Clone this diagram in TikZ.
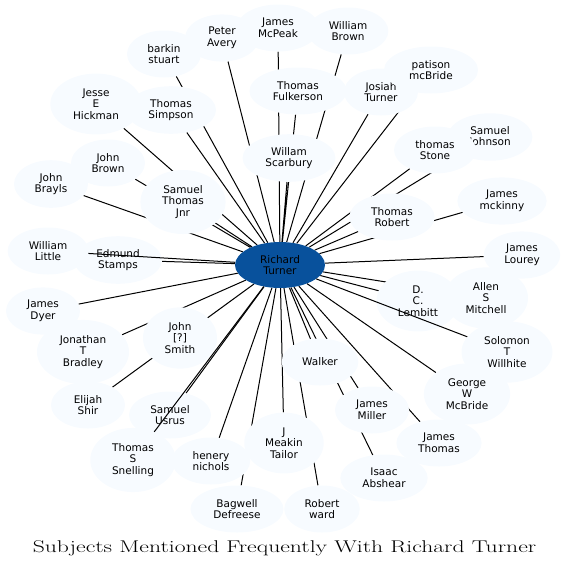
\documentclass[tikz,border=0pt]{standalone}
\usepackage{fontspec}
\usepackage{graphicx}
\usetikzlibrary{shapes.geometric}
\newfontfamily\subjfont{DejaVu Sans}
\definecolor{subjfill}{HTML}{F7FBFF}
\definecolor{centrefill}{HTML}{08519C}
\pgfdeclarelayer{bg}
\pgfsetlayers{bg,main}
\tikzset{
  subj/.style={ellipse, fill=subjfill, align=center, inner xsep=9.3pt, inner ysep=5.9pt,
    minimum width=74pt, minimum height=47pt, font=\subjfont\fontsize{10.5}{11.7}\selectfont},
  centre/.style={subj, fill=centrefill, minimum width=90pt, minimum height=46pt},
  link/.style={line width=1pt}
}
\begin{document}
\begin{tikzpicture}[x=1pt, y=-1pt]
  \useasboundingbox (0,0) rectangle (569,568);
  % Subjects
  \node[subj] (avery) at (222,38) {Peter\\Avery};
  \node[subj] (barkin) at (164,54) {barkin\\stuart};
  \node[subj] (mcpeak) at (278,28) {James\\McPeak};
  \node[subj] (wbrown) at (348,31) {William\\Brown};
  \node[subj] (fulkerson) at (298,91) {Thomas\\Fulkerson};
  \node[subj] (josiah) at (381,92) {Josiah\\Turner};
  \node[subj, minimum width=94pt] (patison) at (431,70) {patison\\mcBride};
  \node[subj] (hickman) at (96,104) {Jesse\\E\\Hickman};
  \node[subj] (simpson) at (171,110) {Thomas\\Simpson};
  \node[subj] (johnson) at (490,137) {Samuel\\Johnson};
  \node[subj] (stone) at (435,150) {thomas\\Stone};
  \node[subj] (brayls) at (51,184) {John\\Brayls};
  \node[subj] (jbrown) at (108,163) {John\\Brown};
  \node[subj] (scarbury) at (289,158) {Willam\\Scarbury};
  \node[subj] (stjnr) at (183,202) {Samuel\\Thomas\\Jnr};
  \node[subj] (mckinny) at (502,201) {James\\mckinny};
  \node[subj] (robert) at (392,217) {Thomas\\Robert};
  \node[subj] (little) at (48,251) {William\\Little};
  \node[subj] (stamps) at (118,260) {Edmund\\Stamps};
  \node[subj] (lourey) at (522,255) {James\\Lourey};
  \node[subj] (lembitt) at (418,301) {D.\\C.\\Lembitt};
  \node[subj] (mitchell) at (486,298) {Allen\\S\\Mitchell};
  \node[subj] (dyer) at (43,311) {James\\Dyer};
  \node[subj] (bradley) at (83,352) {Jonathan\\T\\Bradley};
  \node[subj] (smith) at (180,338) {John\\{[?]}\\Smith};
  \node[subj] (walker) at (320,362) {Walker};
  \node[subj] (mcbride) at (467,394) {George\\W\\McBride};
  \node[subj] (willhite) at (507,352) {Solomon\\T\\Willhite};
  \node[subj] (shir) at (88,405) {Elijah\\Shir};
  \node[subj] (miller) at (372,410) {James\\Miller};
  \node[subj] (usrus) at (170,415) {Samuel\\Usrus};
  \node[subj] (jthomas) at (439,443) {James\\Thomas};
  \node[subj] (snelling) at (133,460) {Thomas\\S\\Snelling};
  \node[subj] (nichols) at (211,461) {henery\\nichols};
  \node[subj] (tailor) at (284,443) {J\\Meakin\\Tailor};
  \node[subj] (abshear) at (384,478) {Isaac\\Abshear};
  \node[subj] (defreese) at (237,509) {Bagwell\\Defreese};
  \node[subj] (ward) at (322,509) {Robert\\ward};
  % Centre
  \node[centre] (rt) at (280,265) {Richard\\Turner};
  % Links
  \begin{pgfonlayer}{bg}
    \draw[link] (rt) -- (avery) (rt) -- (barkin) (rt) -- (mcpeak) (rt) -- (wbrown)
      (rt) -- (fulkerson) (rt) -- (josiah) (rt) -- (patison) (rt) -- (hickman)
      (rt) -- (simpson) (rt) -- (johnson) (rt) -- (stone) (rt) -- (brayls)
      (rt) -- (jbrown) (rt) -- (scarbury) (rt) -- (stjnr) (rt) -- (mckinny)
      (rt) -- (robert) (rt) -- (stamps) (rt) -- (lourey) (rt) -- (lembitt)
      (rt) -- (mitchell) (rt) -- (dyer) (rt) -- (bradley) (rt) -- (smith)
      (rt) -- (walker) (rt) -- (mcbride) (rt) -- (shir) (rt) -- (miller)
      (rt) -- (usrus) (rt) -- (jthomas) (rt) -- (nichols) (rt) -- (tailor)
      (rt) -- (abshear) (rt) -- (defreese) (rt) -- (ward);
  \end{pgfonlayer}
  \draw[link] (rt) -- (little) (rt) -- (willhite) (rt) -- (snelling);
  % Title
  \node (title) at (284.5,548) {\scalebox{1.39}[1]{\fontsize{17}{20}\selectfont Subjects Mentioned Frequently With Richard Turner}};
\end{tikzpicture}
\end{document}
